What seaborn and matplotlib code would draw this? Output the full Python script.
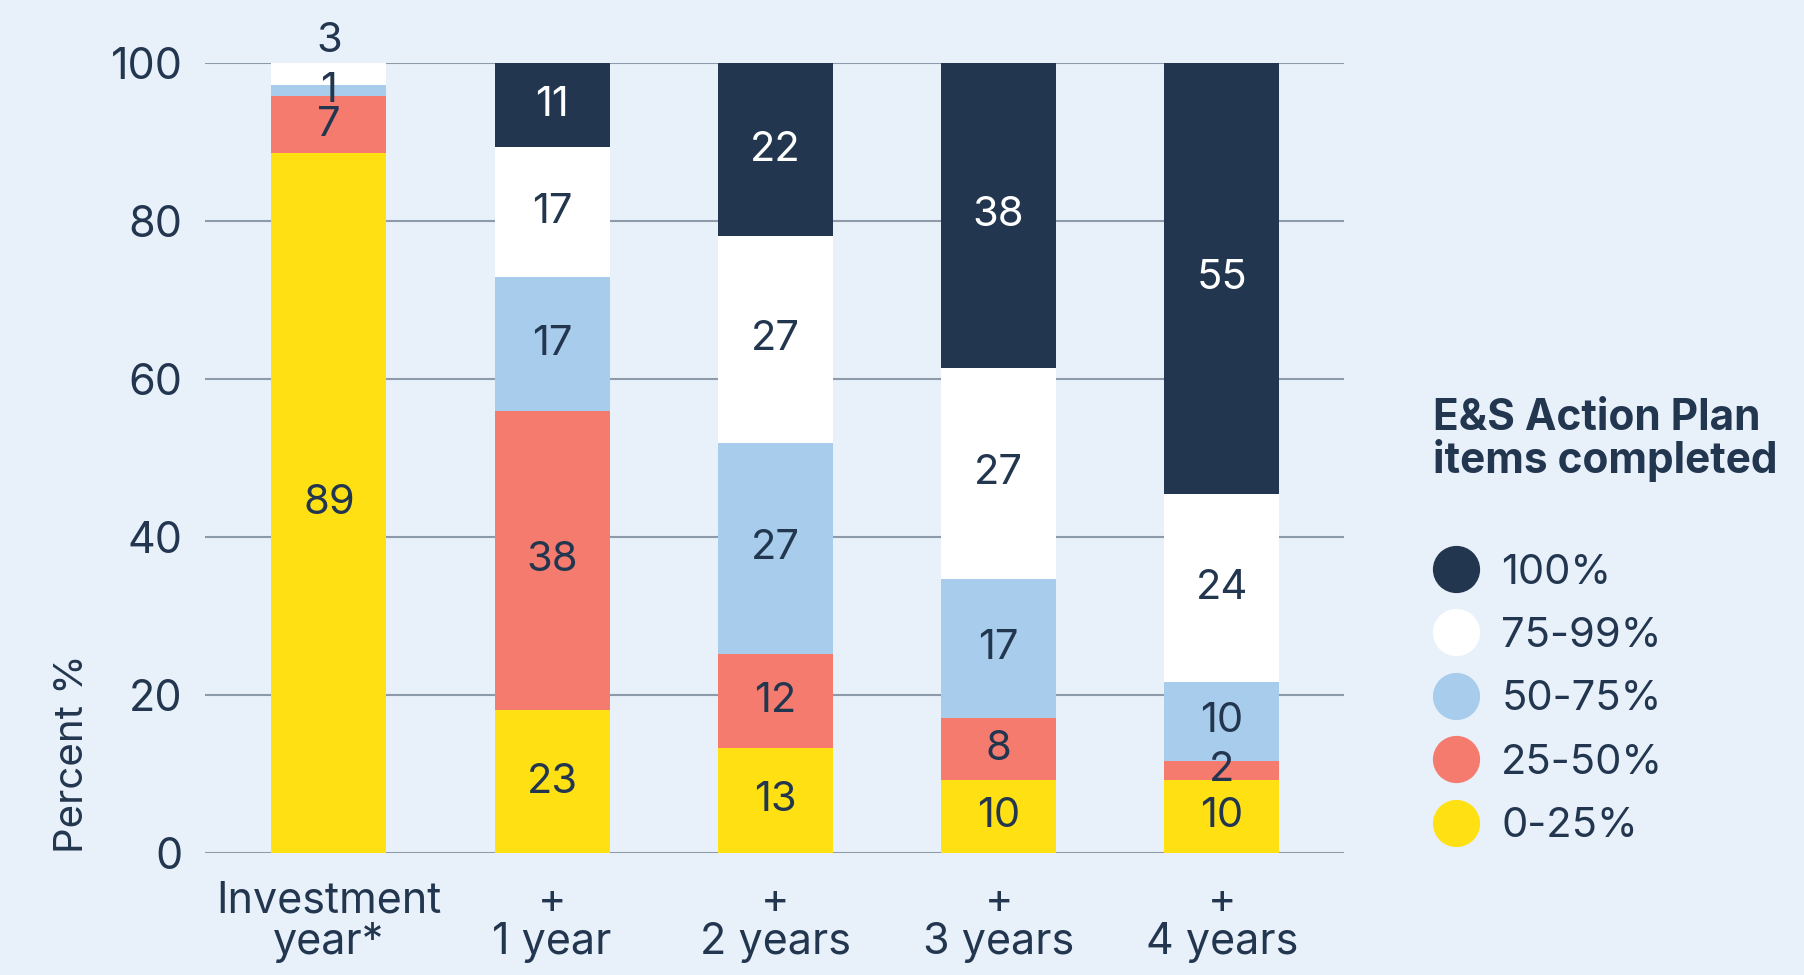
import numpy as np
import pandas as pd
import matplotlib
matplotlib.use('Agg')
import matplotlib.pyplot as plt
from matplotlib.lines import Line2D
import seaborn as sns

# data
categories = ['Investment\nyear*', '+\n1 year', '+\n2 years', '+\n3 years', '+\n4 years']
series = ['0-25%', '25-50%', '50-75%', '75-99%', '100%']
# drawn heights of each segment (percent)
h_0_25 = [88.6, 18.1, 13.3, 9.3, 9.3]
h_25_50 = [7.2, 37.9, 11.9, 7.8, 2.4]
h_50_75 = [1.4, 16.9, 26.7, 17.6, 9.9]
h_75_99 = [2.8, 16.5, 26.2, 26.7, 23.9]
h_100 = [0.0, 10.6, 21.9, 38.6, 54.5]
# printed labels
lab_0_25 = [89, 23, 13, 10, 10]
lab_25_50 = [7, 38, 12, 8, 2]
lab_50_75 = [1, 17, 27, 17, 10]
lab_75_99 = [3, 17, 27, 27, 24]
lab_100 = [0, 11, 22, 38, 55]
colors = ['#FFE113', '#F47B6E', '#A8CCEC', '#FFFFFF', '#22364F']

BG = '#E8F1FA'
NAVY = '#22364F'

sns.set_theme(style='white')
plt.rcParams['font.family'] = ['Inter', 'DejaVu Sans']
plt.rcParams['text.color'] = NAVY

heights = np.array([h_0_25, h_25_50, h_50_75, h_75_99, h_100])
labels = np.array([lab_0_25, lab_25_50, lab_50_75, lab_75_99, lab_100])
cum = np.cumsum(heights, axis=0)

fig = plt.figure(figsize=(18.04, 9.75), dpi=100, facecolor=BG)
ax = fig.add_axes([205/1804, 1 - 853/975, 1139/1804, 790/975])
ax.set_facecolor(BG)

# seaborn stacked bars: draw cumulative totals from the top layer down
for i in range(len(series) - 1, -1, -1):
    df = pd.DataFrame({'cat': categories, 'val': cum[i]})
    sns.barplot(data=df, x='cat', y='val', color=colors[i], saturation=1,
                width=0.515, ax=ax, zorder=2, linewidth=0)

# segment labels
for j in range(len(categories)):
    top_layer = max(i for i in range(len(series)) if heights[i, j] > 0)
    for i in range(len(series)):
        if heights[i, j] <= 0:
            continue
        lab_col = 'white' if i == 4 else NAVY
        mid = cum[i, j] - heights[i, j] / 2
        if i == top_layer and heights[i, j] < 5:
            mid = cum[i, j] + 2.8
        ax.text(j, mid, str(labels[i, j]), ha='center', va='center',
                fontsize=30, color=lab_col, zorder=5)

ax.set_ylim(0, 100)
ax.set_xlim(-0.555, 4.547)
ax.set_yticks([0, 20, 40, 60, 80, 100])
ax.grid(axis='y', color='#8D9AAA', linewidth=1.5, zorder=0)
ax.grid(axis='x', visible=False)
for s in ax.spines.values():
    s.set_visible(False)
ax.tick_params(axis='y', length=0, pad=16, labelsize=31, labelcolor=NAVY)
ax.tick_params(axis='x', length=0, pad=20, labelsize=31, labelcolor=NAVY)
for t in ax.get_xticklabels():
    t.set_linespacing(1.0)
ax.set_xlabel('')
ax.set_ylabel('Percent %', fontsize=29, color=NAVY, loc='bottom')
ax.yaxis.set_label_coords(-0.100, 0)

# legend
fig.text(1433/1804, 1 - 398/975, 'E&S Action Plan\nitems completed', fontsize=30.5,
         fontweight='bold', color=NAVY, ha='left', va='top', linespacing=1.0)
handles = [Line2D([], [], marker='o', ls='', markersize=34, markeredgewidth=0,
                  color=colors[i]) for i in range(len(series) - 1, -1, -1)]
fig.legend(handles, series[::-1], loc='upper left',
           bbox_to_anchor=(1393/1804, 1 - 516/975), frameon=False,
           fontsize=30, labelspacing=0.61, handletextpad=0.5, handlelength=1.2,
           labelcolor=NAVY)

fig.savefig('out.png', dpi=100, facecolor=BG)
